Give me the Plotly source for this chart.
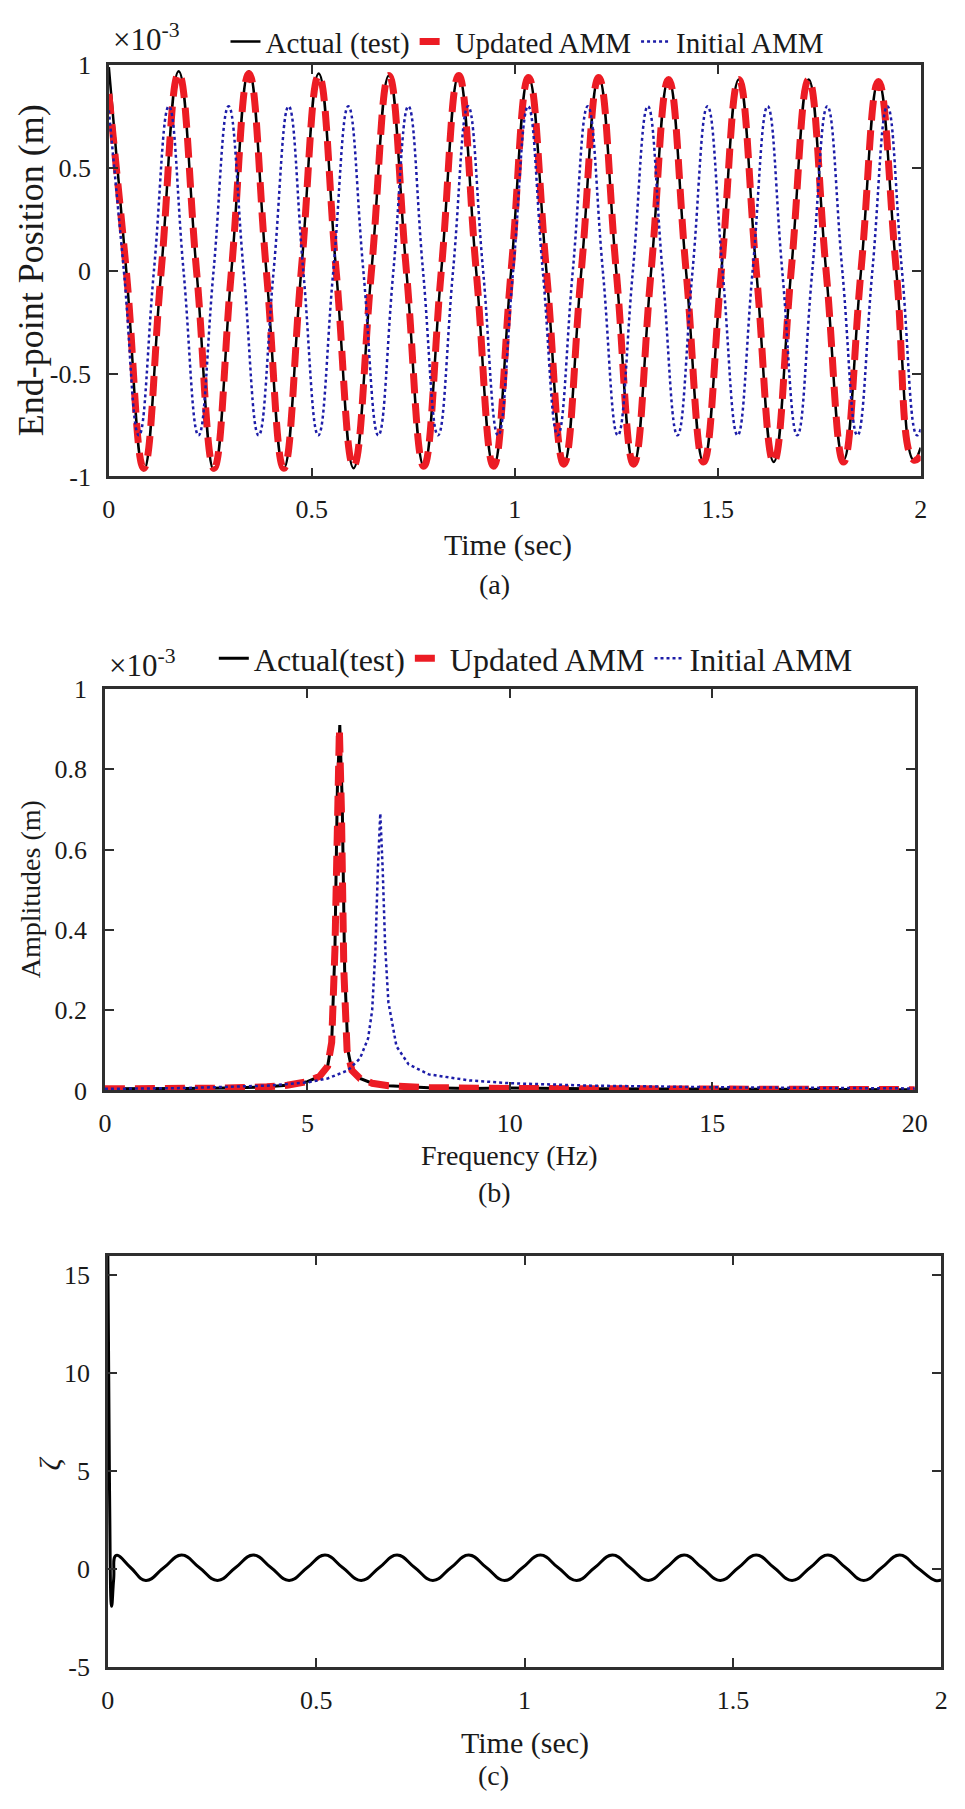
import plotly.graph_objects as go

W, H = 965, 1809
FONT = "Liberation Serif"
INK = "#1a1a1a"
AX = "#2e2e2e"
RED = "#ec1c24"
BLUE = "#1c1ca8"

# ---------------- Panel (a): end-point position (x1e-3 m) vs time (s)
act_t = [0.000, 0.043, 0.086, 0.129, 0.172, 0.216, 0.259, 0.302, 0.345, 0.388, 0.431, 0.474,
         0.517, 0.560, 0.603, 0.647, 0.690, 0.733, 0.776, 0.819, 0.862, 0.905, 0.948, 0.991,
         1.034, 1.078, 1.121, 1.164, 1.207, 1.250, 1.293, 1.336, 1.379, 1.422, 1.465, 1.509,
         1.552, 1.595, 1.638, 1.681, 1.724, 1.767, 1.810, 1.853, 1.896, 1.940, 1.983, 2.000]
act_v = [0.99, 0, -0.97, 0, 0.97, 0, -0.97, 0, 0.97, 0, -0.96, 0,
         0.96, 0, -0.96, 0, 0.95, 0, -0.95, 0, 0.95, 0, -0.95, 0,
         0.94, 0, -0.94, 0, 0.94, 0, -0.94, 0, 0.93, 0, -0.93, 0,
         0.93, 0, -0.93, 0, 0.93, 0, -0.92, 0, 0.92, 0, -0.92, -0.86]
upd_t = act_t
upd_v = [0.86, 0, -0.96, 0, 0.96, 0, -0.96, 0, 0.96, 0, -0.96, 0,
         0.95, 0, -0.95, 0, 0.95, 0, -0.95, 0, 0.95, 0, -0.95, 0,
         0.94, 0, -0.94, 0, 0.94, 0, -0.94, 0, 0.93, 0, -0.93, 0,
         0.93, 0, -0.93, 0, 0.93, 0, -0.93, 0, 0.92, 0, -0.92, -0.90]
ini_t = [0.000, 0.037, 0.074, 0.111, 0.148, 0.184, 0.221, 0.258, 0.295, 0.332, 0.369, 0.406,
         0.443, 0.479, 0.516, 0.553, 0.590, 0.627, 0.664, 0.701, 0.738, 0.774, 0.811, 0.848,
         0.885, 0.922, 0.959, 0.996, 1.033, 1.069, 1.106, 1.143, 1.180, 1.217, 1.254, 1.291,
         1.328, 1.364, 1.401, 1.438, 1.475, 1.512, 1.549, 1.586, 1.623, 1.659, 1.696, 1.733,
         1.770, 1.807, 1.844, 1.881, 1.918, 1.954, 1.991, 2.000]
ini_v = [0.78, 0, -0.8, 0, 0.8, 0, -0.8, 0, 0.8, 0, -0.8, 0,
         0.8, 0, -0.8, 0, 0.8, 0, -0.8, 0, 0.8, 0, -0.8, 0,
         0.8, 0, -0.8, 0, 0.8, 0, -0.8, 0, 0.8, 0, -0.8, 0,
         0.8, 0, -0.8, 0, 0.8, 0, -0.8, 0, 0.8, 0, -0.8, 0,
         0.8, 0, -0.8, 0, 0.8, 0, -0.8, -0.77]

# ---------------- Panel (b): amplitude spectrum (x1e-3 m) vs frequency (Hz)
act_f = [0, 1, 2, 3, 4, 4.5, 5, 5.3, 5.5, 5.6, 5.68, 5.74, 5.8, 5.86, 5.92, 6.0, 6.1, 6.3, 6.6,
         7, 8, 9, 10, 12, 15, 20]
act_a = [0.004, 0.004, 0.005, 0.006, 0.009, 0.013, 0.022, 0.035, 0.06, 0.12, 0.35, 0.75, 0.91,
         0.72, 0.3, 0.1, 0.05, 0.03, 0.018, 0.012, 0.007, 0.005, 0.006, 0.004, 0.003, 0.002]
upd_f = [0, 1, 2, 3, 4, 4.5, 5, 5.3, 5.5, 5.6, 5.68, 5.75, 5.79, 5.84, 5.9, 5.98, 6.1, 6.3, 6.6,
         7, 8, 10, 12, 15, 20]
upd_a = [0.004, 0.004, 0.005, 0.006, 0.009, 0.013, 0.022, 0.035, 0.06, 0.12, 0.35, 0.78, 0.90,
         0.7, 0.3, 0.1, 0.05, 0.03, 0.018, 0.012, 0.007, 0.005, 0.004, 0.003, 0.002]
ini_f = [0, 2, 4, 5, 5.5, 6, 6.3, 6.5, 6.6, 6.68, 6.74, 6.8, 6.86, 6.92, 7.0, 7.2, 7.5, 8, 9,
         10, 12, 15, 20]
ini_a = [0.004, 0.006, 0.012, 0.02, 0.03, 0.05, 0.08, 0.13, 0.2, 0.35, 0.55, 0.69, 0.55, 0.36,
         0.22, 0.11, 0.065, 0.04, 0.025, 0.018, 0.012, 0.008, 0.005]

# ---------------- Panel (c): zeta vs time (s)
zeta_t = [0.000, 0.004, 0.009, 0.014, 0.020,
          0.055, 0.091, 0.134, 0.177, 0.220, 0.263, 0.306, 0.349, 0.392, 0.435, 0.478, 0.521,
          0.564, 0.608, 0.651, 0.694, 0.737, 0.780, 0.823, 0.866, 0.909, 0.952, 0.995, 1.038,
          1.081, 1.125, 1.168, 1.211, 1.254, 1.297, 1.340, 1.383, 1.426, 1.470, 1.513, 1.556,
          1.599, 1.642, 1.685, 1.728, 1.771, 1.814, 1.857, 1.900, 1.943, 1.986, 2.000]
zeta_v = [16.0, 4.0, -1.9, -0.5, 0.70,
          0.07, -0.58, 0.07, 0.72, 0.07, -0.58, 0.07, 0.72, 0.07, -0.58, 0.07, 0.72,
          0.07, -0.58, 0.07, 0.72, 0.07, -0.58, 0.07, 0.72, 0.07, -0.58, 0.07, 0.72,
          0.07, -0.58, 0.07, 0.72, 0.07, -0.58, 0.07, 0.72, 0.07, -0.58, 0.07, 0.72,
          0.07, -0.58, 0.07, 0.72, 0.07, -0.58, 0.07, 0.72, 0.07, -0.58, -0.55]

time_ticks = [0, 0.5, 1, 1.5, 2]
time_ticktext = ["0", "0.5", "1", "1.5", "2"]
pos_ticks = [-1, -0.5, 0, 0.5, 1]
pos_ticktext = ["-1", "-0.5", "0", "0.5", "1"]
freq_ticks = [0, 5, 10, 15, 20]
freq_ticktext = ["0", "5", "10", "15", "20"]
amp_ticks = [0, 0.2, 0.4, 0.6, 0.8, 1]
amp_ticktext = ["0", "0.2", "0.4", "0.6", "0.8", "1"]
zeta_ticks = [-5, 0, 5, 10, 15]
zeta_ticktext = ["-5", "0", "5", "10", "15"]


def px_x(x):
    return x / W


def px_y(y):
    return 1 - y / H


fig = go.Figure()

# (a)
fig.add_trace(go.Scatter(x=act_t, y=act_v, name="Actual (test)", mode="lines",
                         line=dict(color="black", width=2.5, shape="spline", smoothing=1.3),
                         xaxis="x", yaxis="y", legend="legend"))
fig.add_trace(go.Scatter(x=upd_t, y=upd_v, name="Updated AMM", mode="lines",
                         line=dict(color=RED, width=7, dash="20px,10px", shape="spline", smoothing=1.3),
                         xaxis="x", yaxis="y", legend="legend"))
fig.add_trace(go.Scatter(x=ini_t, y=ini_v, name="Initial AMM", mode="lines",
                         line=dict(color=BLUE, width=2.5, dash="dot", shape="spline", smoothing=1.3),
                         xaxis="x", yaxis="y", legend="legend"))
# (b)
fig.add_trace(go.Scatter(x=act_f, y=act_a, name="Actual(test)", mode="lines",
                         line=dict(color="black", width=3),
                         xaxis="x2", yaxis="y2", legend="legend2"))
fig.add_trace(go.Scatter(x=upd_f, y=upd_a, name="Updated AMM", mode="lines",
                         line=dict(color=RED, width=7, dash="20px,10px"),
                         xaxis="x2", yaxis="y2", legend="legend2"))
fig.add_trace(go.Scatter(x=ini_f, y=ini_a, name="Initial AMM", mode="lines",
                         line=dict(color=BLUE, width=2.5, dash="dot"),
                         xaxis="x2", yaxis="y2", legend="legend2"))
# (c)
fig.add_trace(go.Scatter(x=zeta_t, y=zeta_v, name="zeta", mode="lines", showlegend=False,
                         line=dict(color="black", width=3, shape="spline", smoothing=1.3),
                         xaxis="x3", yaxis="y3"))

common = dict(showline=True, linecolor=AX, linewidth=2.5, mirror="ticks", ticks="inside",
              ticklen=9, tickwidth=2, tickcolor=AX, showgrid=False, zeroline=False,
              tickfont=dict(family=FONT, size=26, color=INK))

fig.update_layout(
    width=W, height=H, margin=dict(l=0, r=0, t=0, b=0),
    paper_bgcolor="white", plot_bgcolor="white",
    font=dict(family=FONT, size=26, color=INK),
    xaxis=dict(domain=[px_x(104), px_x(933)], range=[0, 2], tickvals=time_ticks,
               ticktext=time_ticktext, anchor="y", ticklabelstandoff=8, **common),
    yaxis=dict(domain=[px_y(470), px_y(52)], range=[-1, 1], tickvals=pos_ticks,
               ticktext=pos_ticktext, anchor="x", ticklabelstandoff=10, **common),
    xaxis2=dict(domain=[px_x(100), px_x(927)], range=[0, 20], tickvals=freq_ticks,
                ticktext=freq_ticktext, anchor="y2", ticklabelstandoff=8, **common),
    yaxis2=dict(domain=[px_y(1094), px_y(686)], range=[0, 1], tickvals=amp_ticks,
                ticktext=amp_ticktext, anchor="x2", ticklabelstandoff=10, **common),
    xaxis3=dict(domain=[px_x(103), px_x(954)], range=[0, 2], tickvals=time_ticks,
                ticktext=time_ticktext, anchor="y3", ticklabelstandoff=8, **common),
    yaxis3=dict(domain=[px_y(1680), px_y(1262)], range=[-5, 16], tickvals=zeta_ticks,
                ticktext=zeta_ticktext, anchor="x3", ticklabelstandoff=10, **common),
    legend=dict(orientation="h", x=px_x(531), xanchor="center", y=px_y(28), yanchor="middle",
                font=dict(family=FONT, size=29, color=INK), bgcolor="rgba(0,0,0,0)",
                itemwidth=30, tracegroupgap=0),
    legend2=dict(orientation="h", x=px_x(540), xanchor="center", y=px_y(655), yanchor="middle",
                 font=dict(family=FONT, size=32, color=INK), bgcolor="rgba(0,0,0,0)",
                 itemwidth=30, tracegroupgap=0),
)


def ann(text, x, y, size, angle=0, xanchor="center"):
    return dict(text=text, x=px_x(x), y=px_y(y), xref="paper", yref="paper",
                showarrow=False, textangle=angle, xanchor=xanchor, yanchor="middle",
                font=dict(family=FONT, size=size, color=INK))


fig.update_layout(annotations=[
    ann("×10<sup>-3</sup>", 106, 24, 31, xanchor="left"),
    ann("Time (sec)", 512, 540, 30),
    ann("(a)", 498, 580, 28),
    ann("End-point Position (m)", 24, 261, 36, angle=-90),
    ann("×10<sup>-3</sup>", 102, 660, 31, xanchor="left"),
    ann("Frequency (Hz)", 513, 1160, 28),
    ann("(b)", 498, 1198, 28),
    ann("Amplitudes (m)", 24, 890, 28, angle=-90),
    ann("Time (sec)", 529, 1757, 30),
    ann("(c)", 497, 1790, 28),
    ann("<i>ζ</i>", 43, 1473, 30, angle=-90),
])

fig.write_html("out.html")
